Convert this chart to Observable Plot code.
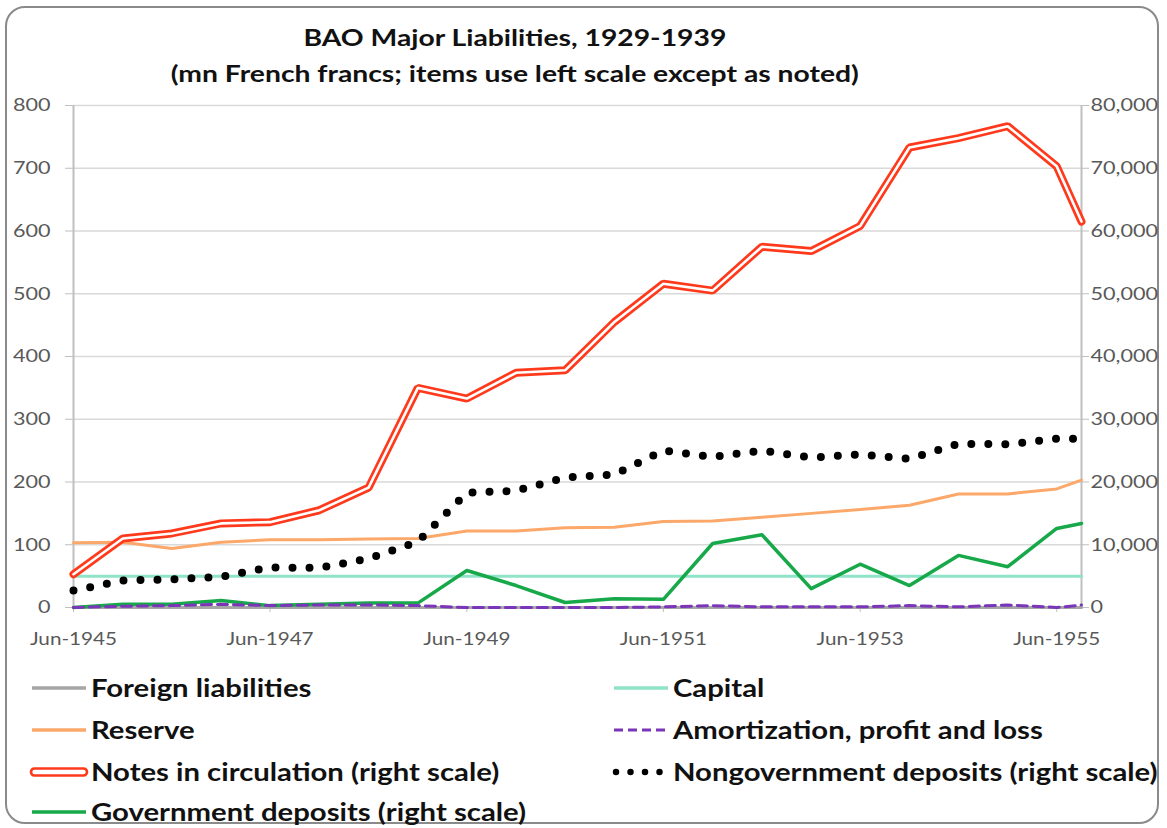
<!DOCTYPE html>
<html>
<head>
<meta charset="utf-8">
<script src="https://cdn.jsdelivr.net/npm/d3@7"></script>
<script src="https://cdn.jsdelivr.net/npm/@observablehq/plot@0.6"></script>
<style>
  html, body { margin: 0; padding: 0; background: #ffffff; }
  #wrap { position: relative; width: 1167px; height: 828px; overflow: hidden; font-family: Lato, "Open Sans", sans-serif; }
  #frame { position: absolute; left: 5px; top: 6px; width: 1154px; height: 818px; border: 2px solid #8a8a8a; border-radius: 20px; box-sizing: border-box; }
  #title { position: absolute; left: 0; width: 1030px; top: 19px; text-align: center; font-weight: bold; font-size: 23px; line-height: 36px; color: #111; }
  #title span { display: inline-block; transform: scaleX(1.23); transform-origin: center; }
  #chart { position: absolute; left: 0; top: 90px; }
  .leg { position: absolute; display: flex; align-items: center; font-weight: bold; font-size: 24px; color: #111; white-space: nowrap; }
  .leg svg { margin-right: 2px; flex: none; }
  .leg span { display: inline-block; transform: scaleX(1.22); transform-origin: left center; }
</style>
</head>
<body>
<div id="wrap">
  <div id="frame"></div>
  <div id="title"><span>BAO Major Liabilities, 1929-1939</span><br><span>(mn French francs; items use left scale except as noted)</span></div>
  <div id="chart"></div>
  <div id="legend"></div>
</div>
<script>
// ---- data ----
const periods = ["Jun-1945","Dec-1945","Jun-1946","Dec-1946","Jun-1947","Dec-1947","Jun-1948","Dec-1948",
  "Jun-1949","Dec-1949","Jun-1950","Dec-1950","Jun-1951","Dec-1951","Jun-1952","Dec-1952",
  "Jun-1953","Dec-1953","Jun-1954","Dec-1954","Jun-1955","Sep-1955"];
// left scale (mn francs)
const foreignLiabilities = [0,0,0,0,0,0,0,0,0,0,0,0,0,0,0,0,0,0,0,0,0,0];
const capital = [50,50,50,50,50,50,50,50,50,50,50,50,50,50,50,50,50,50,50,50,50,50];
const reserve = [103,104,94,104,108,108,109,110,122,122,127,128,137,138,144,150,156,163,181,181,189,203];
const amortization = [0,2,3,5,3,4,4,3,0,0,0,0,1,3,1,1,1,3,1,4,0,4];
// right scale (mn francs)
const notes = [5300,11000,11800,13400,13600,15500,19100,35000,33300,37400,37800,45500,51600,50500,57500,56800,60800,73300,74800,76700,70300,61500];
const nongovDeposits = [2700,4300,4500,4900,6400,6300,7800,10500,18300,18600,20700,21200,25000,24000,25000,23900,24400,23700,26100,26000,26900,26900];
const govDeposits = [0,500,500,1100,300,500,700,700,5900,3500,800,1400,1300,10200,11600,3000,6900,3500,8300,6500,12600,13400];
const leftTicks = [0,100,200,300,400,500,600,700,800];
const rightTicks = [0,10000,20000,30000,40000,50000,60000,70000,80000];
const xTickLabels = ["Jun-1945","Jun-1947","Jun-1949","Jun-1951","Jun-1953","Jun-1955"];
const legendItems = [
  {label: "Foreign liabilities", key: "foreign", col: 0, row: 0},
  {label: "Capital", key: "capital", col: 1, row: 0},
  {label: "Reserve", key: "reserve", col: 0, row: 1},
  {label: "Amortization, profit and loss", key: "amort", col: 1, row: 1},
  {label: "Notes in circulation (right scale)", key: "notes", col: 0, row: 2},
  {label: "Nongovernment deposits (right scale)", key: "nongov", col: 1, row: 2},
  {label: "Government deposits (right scale)", key: "gov", col: 0, row: 3}
];

// ---- build ----
const parse = d3.utcParse("%b-%Y");
const fmtDate = d3.utcFormat("%b-%Y");
const dates = periods.map(parse);
const RIGHT_FACTOR = rightTicks[rightTicks.length - 1] / leftTicks[leftTicks.length - 1]; // 100
const series = (vals, scale = 1) => vals.map((v, i) => ({date: dates[i], value: v / scale}));

const sForeign = series(foreignLiabilities);
const sCapital = series(capital);
const sReserve = series(reserve);
const sAmort = series(amortization);
const sNotes = series(notes, RIGHT_FACTOR);
const sNongov = series(nongovDeposits, RIGHT_FACTOR);
const sGov = series(govDeposits, RIGHT_FACTOR);

const colors = {
  foreign: "#a6a6a6", capital: "#8fe3c8", reserve: "#fba86a", amort: "#7a35b8",
  notes: "#ff3a1c", nongov: "#000000", gov: "#17a84a"
};

const xDomain = [dates[0], dates[dates.length - 1]];
const chart = Plot.plot({
  width: 1167,
  height: 570,
  marginLeft: 73,
  marginRight: 86,
  marginTop: 15,
  marginBottom: 53,
  style: {fontFamily: "Lato, 'Open Sans', sans-serif", background: "transparent"},
  x: {type: "utc", domain: xDomain},
  y: {domain: [0, 800]},
  marks: [
    Plot.gridY(leftTicks, {stroke: "#d9d9d9", strokeOpacity: 1, strokeWidth: 1.5}),
    Plot.ruleX([xDomain[0], xDomain[1]], {stroke: "#bfbfbf", strokeWidth: 2}),
    Plot.axisY(leftTicks, {anchor: "left", tickSize: 8, tickPadding: 15, fontSize: 18, stroke: "#bfbfbf", fill: "#595959", label: null}),
    Plot.axisY(rightTicks.map(v => v / RIGHT_FACTOR), {anchor: "right", tickSize: 7, tickPadding: 2, fontSize: 18, stroke: "#bfbfbf", fill: "#595959", label: null,
      tickFormat: d => d3.format(",")(d * RIGHT_FACTOR)}),
    Plot.axisX(xTickLabels.map(parse), {tickSize: 5, tickPadding: 20, fontSize: 18, stroke: "#bfbfbf", fill: "#595959", label: null,
      tickFormat: d => fmtDate(d)}),
    Plot.line(sForeign, {x: "date", y: "value", stroke: colors.foreign, strokeWidth: 3}),
    Plot.line(sCapital, {x: "date", y: "value", stroke: colors.capital, strokeWidth: 3}),
    Plot.line(sReserve, {x: "date", y: "value", stroke: colors.reserve, strokeWidth: 3}),
    Plot.line(sGov, {x: "date", y: "value", stroke: colors.gov, strokeWidth: 3.5}),
    Plot.line(sAmort, {x: "date", y: "value", stroke: colors.amort, strokeWidth: 3, strokeDasharray: "10 6"}),
    Plot.line(sNongov, {x: "date", y: "value", stroke: colors.nongov, strokeWidth: 8, strokeLinecap: "round", strokeDasharray: "0 17"}),
    Plot.line(sNotes, {x: "date", y: "value", stroke: colors.notes, strokeWidth: 8, strokeLinejoin: "miter"}),
    Plot.line(sNotes, {x: "date", y: "value", stroke: "#ffffff", strokeWidth: 2.6, strokeLinejoin: "miter"})
  ]
});
document.getElementById("chart").appendChild(chart);

// widen tick labels horizontally (the reference font is set wide), anchored at their text-anchor point
chart.querySelectorAll('g[aria-label$="tick label"] text').forEach(t => {
  const bb = t.getBBox();
  const anchor = getComputedStyle(t).textAnchor;
  const ax = anchor === "end" ? bb.x + bb.width : anchor === "start" ? bb.x : bb.x + bb.width / 2;
  const k = anchor === "middle" ? 1.15 : 1.2;
  const prev = t.getAttribute("transform") || "";
  t.setAttribute("transform", `${prev} translate(${ax},0) scale(${k},1) translate(${-ax},0)`.trim());
});

// ---- legend ----
function swatch(key) {
  const ns = "http://www.w3.org/2000/svg";
  const s = document.createElementNS(ns, "svg");
  s.setAttribute("width", 60); s.setAttribute("height", 20);
  const mk = (attrs) => { const l = document.createElementNS(ns, "line"); l.setAttribute("x1", 3); l.setAttribute("x2", 57); l.setAttribute("y1", 10); l.setAttribute("y2", 10); for (const k in attrs) l.setAttribute(k, attrs[k]); s.appendChild(l); };
  if (key === "notes") {
    const r = document.createElementNS(ns, "rect");
    r.setAttribute("x", 2); r.setAttribute("y", 6.5); r.setAttribute("width", 56); r.setAttribute("height", 7); r.setAttribute("rx", 3.5);
    r.setAttribute("fill", "#fff"); r.setAttribute("stroke", colors.notes); r.setAttribute("stroke-width", 2.6);
    s.appendChild(r);
  } else if (key === "nongov") {
    mk({stroke: colors.nongov, "stroke-width": 6.5, "stroke-linecap": "round", "stroke-dasharray": "0 14.5", x1: 5, x2: 57});
  } else if (key === "amort") {
    mk({stroke: colors.amort, "stroke-width": 3, "stroke-dasharray": "9 5"});
  } else {
    mk({stroke: colors[key], "stroke-width": 3.5});
  }
  return s;
}
const legend = document.getElementById("legend");
const colX = [29, 611];
const rowY = [688, 730, 772, 812];
for (const it of legendItems) {
  const d = document.createElement("div");
  d.className = "leg";
  d.style.left = colX[it.col] + "px";
  d.style.top = (rowY[it.row] - 15) + "px";
  d.appendChild(swatch(it.key));
  const t = document.createElement("span");
  t.textContent = it.label;
  d.appendChild(t);
  legend.appendChild(d);
}
</script>
</body>
</html>
